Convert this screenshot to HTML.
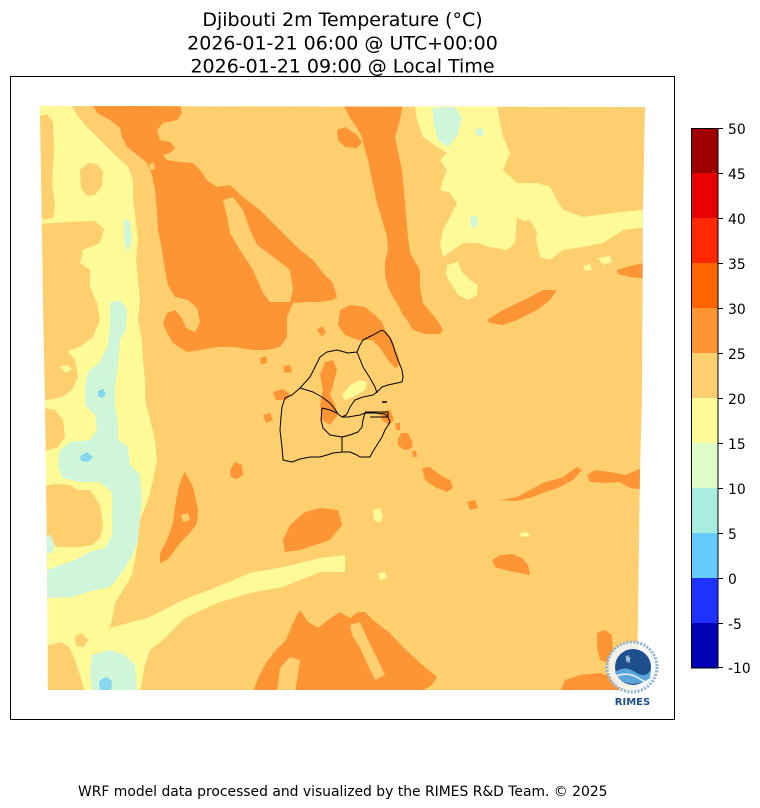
<!DOCTYPE html>
<html><head><meta charset="utf-8"><style>
html,body{margin:0;padding:0;background:#fff;}
svg{display:block;}
text{font-family:"DejaVu Sans","Liberation Sans",sans-serif;fill:#000;}
</style></head><body>
<svg width="760" height="808" viewBox="0 0 760 808" xmlns="http://www.w3.org/2000/svg">
<rect width="760" height="808" fill="#fff"/>
<text x="342.5" y="26" font-size="19" text-anchor="middle">Djibouti 2m Temperature (°C)</text>
<text x="342.5" y="49.5" font-size="19" text-anchor="middle">2026-01-21 06:00 @ UTC+00:00</text>
<text x="342.5" y="72.5" font-size="19" text-anchor="middle">2026-01-21 09:00 @ Local Time</text>
<defs>
<clipPath id="mc"><polygon points="40,106 645,107 643,210 642,400 640,470 637,690 48,690 47,550 45,400 43,300"/></clipPath>
</defs>
<g clip-path="url(#mc)" stroke-linejoin="round">
<rect x="30" y="100" width="620" height="600" fill="#fdcf6f"/>
<!-- left yellow band -->
<polygon fill="#fefa98" points="38,106 72,106 77,115 87,127 100,140 115,155 128,167 133,180 133,200 135,215 138,240 136,260 138,280 140,300 138,320 142,340 143,360 145,380 145,400 150,420 155,440 157,460 153,480 148,500 140,520 138,540 135,560 132,575 125,587 115,603 112,620 108,633 110,628 150,617 183,600 217,587 250,573 283,567 320,558 345,555 345,572 320,572 283,587 250,593 217,603 185,618 165,638 150,650 145,665 140,692 38,692"/>
<!-- LO patches in yellow -->
<polygon fill="#fdcf6f" points="38,117 47,114 53,122 54,150 52,185 55,205 53,218 38,220"/>
<polygon fill="#fdcf6f" points="80,170 88,163 97,164 103,172 102,186 95,195 87,196 81,188"/>
<polygon fill="#fdcf6f" points="38,224 70,222 95,221 104,229 100,243 83,250 80,263 90,270 90,287 97,303 100,320 93,337 80,347 70,350 68,352 75,360 78,377 72,390 62,397 48,400 38,402"/>
<polygon fill="#fefa98" points="60,367 67,365 72,369 66,373"/>
<polygon fill="#fdcf6f" points="38,407 55,410 63,420 65,437 58,447 48,450 38,450"/>
<polygon fill="#fdcf6f" points="38,487 55,484 70,485 78,490 90,490 100,505 103,525 100,538 92,545 80,547 60,547 47,545 38,545"/>
<polygon fill="#fdcf6f" points="75,636 82,633 88,640 84,647 76,646"/>
<polygon fill="#fdcf6f" points="38,648 50,645 62,642 70,648 75,660 80,675 85,692 38,692"/>
<!-- pale green (mint) -->
<polygon fill="#cff6d8" points="110,303 120,300 127,310 126,330 120,340 118,367 115,385 115,407 118,420 118,440 128,447 130,465 140,475 142,500 140,520 138,540 133,555 120,575 110,587 95,590 72,597 47,598 47,570 60,565 75,560 90,552 105,548 112,535 112,520 112,492 100,482 80,482 62,478 58,465 60,450 70,442 90,440 97,430 95,415 85,405 85,385 88,372 100,362 108,345 110,325"/>
<polygon fill="#cff6d8" points="40,537 50,535 55,545 52,553 40,553"/>
<polygon fill="#cff6d8" points="92,655 110,650 125,655 135,665 137,692 92,692 90,672"/>
<polygon fill="#cff6d8" points="124,218 130,222 132,240 128,253 124,240"/>
<polygon fill="#cff6d8" points="428,108 455,107 462,118 458,135 448,147 438,140 432,125"/>
<!-- blue spots -->
<polygon fill="#86d6ee" points="98,391 103,389 106,394 102,398 98,396"/>
<polygon fill="#86d6ee" points="80,456 87,452 93,457 88,462 81,461"/>
<polygon fill="#86d6ee" points="99,681 106,677 112,681 111,692 100,692"/>
<!-- upper right yellow -->
<polygon fill="#fefa98" points="415,106 497,106 503,137 510,153 503,170 517,183 537,183 550,187 557,200 563,210 583,217 613,213 650,209 650,227 623,230 603,243 583,247 563,250 550,260 540,257 537,243 530,230 523,220 517,218 515,243 507,250 490,247 477,243 463,243 453,250 443,257 440,243 443,230 450,217 457,203 450,193 440,190 443,180 447,170 440,160 447,153 437,147 423,137 417,120"/>
<polygon fill="#fdcf6f" points="418,153 428,150 434,158 430,165 420,163"/>
<polygon fill="#fdcf6f" points="415,182 425,178 432,185 428,195 417,193"/>
<polygon fill="#fdcf6f" points="520,222 530,220 537,232 535,245 525,243"/>
<polygon fill="#cff6d8" points="432,108 455,107 462,118 458,135 448,147 438,140 434,125"/>
<polygon fill="#cff6d8" points="470,217 476,215 478,225 472,228"/>
<polygon fill="#cff6d8" points="475,130 482,128 484,135 478,137"/>
<polygon fill="#fefa98" points="447,265 458,262 462,272 470,280 478,285 477,295 468,300 458,295 452,285 446,275"/>
<polygon fill="#fefa98" points="598,258 610,256 612,262 603,265"/>
<polygon fill="#fefa98" points="583,266 590,264 592,270 585,271"/>
<!-- big orange left -->
<polygon fill="#fd9535" points="92,104 180,104 182,113 177,120 163,123 157,130 160,140 170,142 175,148 170,153 163,155 167,160 180,162 193,163 200,170 207,180 217,187 230,185 243,197 260,210 273,223 287,237 300,250 313,260 323,273 333,283 337,297 333,300 320,302 307,302 293,303 287,317 287,337 280,347 267,350 253,350 233,347 217,347 200,350 187,352 173,343 167,333 163,323 167,313 175,310 182,318 186,328 195,332 200,322 197,308 188,300 175,297 168,285 165,270 162,250 158,230 157,210 155,190 152,175 147,163 140,157 127,147 122,137 120,128 110,120 97,113"/>
<polygon fill="#fdcf6f" points="223,200 233,197 243,210 250,230 257,245 280,262 290,270 293,290 290,302 270,302 263,293 253,270 240,250 230,233 227,217"/>
<polygon fill="#fdcf6f" points="149,164 154,163 155,169 150,170"/>
<!-- orange ridge -->
<polygon fill="#fd9535" points="343,104 403,104 400,120 395,137 402,170 405,203 408,237 410,253 420,270 420,287 423,303 437,320 443,330 440,334 425,334 413,330 407,320 403,315 397,303 393,297 388,287 385,275 385,262 388,250 387,237 382,220 377,203 373,185 370,170 368,160 365,150 362,137 357,128 350,118"/>
<polygon fill="#fd9535" points="337,130 345,127 357,135 362,142 357,148 345,147 338,140"/>
<polygon fill="#fd9535" points="487,320 503,310 530,297 543,290 557,290 550,300 537,310 517,320 503,325 490,323"/>
<polygon fill="#fd9535" points="617,270 630,266 650,262 650,279 630,277 618,274"/>
<polygon fill="#fd9535" points="340,310 350,305 365,307 375,315 382,322 385,330 392,340 398,355 400,365 395,368 388,360 380,348 372,340 358,340 345,335 338,325"/>
<!-- Djibouti interior -->
<polygon fill="#fd9535" points="325,362 333,360 337,370 333,385 330,395 335,405 338,415 330,425 322,420 320,405 323,390 320,375"/>
<polygon fill="#fefa98" points="342,395 350,385 360,380 367,382 365,390 355,396 345,400"/>
<polygon fill="#fd9535" points="273,392 283,389 290,394 287,400 276,400"/>
<polygon fill="#fd9535" points="263,415 270,413 273,420 266,423"/>
<polygon fill="#fd9535" points="283,366 290,365 292,372 285,373"/>
<polygon fill="#fd9535" points="317,330 322,326 326,332 322,337"/>
<polygon fill="#fd9535" points="260,358 266,356 267,363 261,364"/>
<polygon fill="#fd9535" points="380,412 390,410 394,420 389,425 382,420"/>
<polygon fill="#fd9535" points="395,423 400,423 400,430 396,430"/>
<polygon fill="#fd9535" points="400,433 408,433 413,445 408,450 402,445"/>
<polygon fill="#fd9535" points="412,451 416,451 417,457 413,457"/>
<!-- lower orange -->
<polygon fill="#fd9535" points="185,472 193,487 198,510 197,523 190,533 180,543 173,553 167,560 160,563 160,553 167,540 173,523 175,507 178,490 182,477"/>
<polygon fill="#fdcf6f" points="181,515 188,513 190,520 183,522"/>
<polygon fill="#fd9535" points="230,470 235,462 242,465 243,475 237,479 231,477"/>
<polygon fill="#fd9535" points="283,540 290,525 305,512 320,508 338,510 342,525 330,540 315,545 300,550 285,552"/>
<polygon fill="#fd9535" points="253,692 258,678 266,663 276,650 286,640 292,625 300,610 308,622 318,628 328,620 340,612 350,618 358,612 365,612 373,620 390,633 403,647 420,663 437,677 432,685 420,692"/>
<polygon fill="#fdcf6f" points="350,625 360,622 368,640 378,660 385,675 375,680 368,665 360,648 352,635"/>
<polygon fill="#fdcf6f" points="277,692 280,668 290,657 300,660 298,675 295,692"/>
<polygon fill="#fd9535" points="500,500 517,497 530,490 543,483 563,477 577,467 582,470 573,480 560,487 543,493 530,498 517,501"/>
<polygon fill="#fd9535" points="587,475 595,470 610,472 625,475 637,470 650,466 650,490 630,488 620,482 605,483 590,482"/>
<polygon fill="#fd9535" points="398,438 405,433 412,440 412,448 404,450 398,445"/>
<polygon fill="#fd9535" points="422,468 430,467 440,475 450,480 453,488 447,492 435,487 425,480"/>
<polygon fill="#fd9535" points="467,502 475,500 478,508 470,510"/>
<polygon fill="#fd9535" points="492,560 500,555 512,554 522,558 528,565 530,575 520,573 505,570 495,567"/>
<polygon fill="#fd9535" points="597,633 605,630 612,635 613,650 608,663 600,660 597,648"/>
<polygon fill="#fd9535" points="560,692 565,680 580,675 600,673 615,678 620,692"/>
<!-- small yellow spots -->
<polygon fill="#fefa98" points="373,510 380,508 383,515 380,523 374,520"/>
<polygon fill="#fefa98" points="378,573 385,572 387,578 380,580"/>
<polygon fill="#fefa98" points="520,533 528,532 530,536 521,537"/>
</g>
<!-- Djibouti borders -->
<g fill="none" stroke="#000" stroke-width="1" stroke-linejoin="round">
<polyline points="382,330 385,332 390,338 393,345 395,352 398,360 400,365 402,370 403,377 402,382 397,383 388,385 382,387 377,392 373,395 363,397 355,400 350,407 348,412 346,415 342,417 338,414 337,412"/>
<polyline points="342,417 348,417 360,415 365,413 375,413 385,414 388,417 390,422 385,430 382,437 377,445 372,453 370,457 360,457 357,455 350,452 342,452 333,453 327,455 320,457 310,457 300,459 292,462 283,460 282,447 280,430 281,417 282,407 285,398 292,395 300,388 310,377 320,357 327,352 337,350 348,353 357,352 360,345 363,340 373,335 382,330"/>
<polyline points="357,352 363,367 370,378 375,387 377,393"/>
<polyline points="300,388 313,392 322,397 330,403 337,412"/>
<polyline points="322,408 321,420 323,428 330,435 342,437 350,435 358,432 362,427 363,420 365,413"/>
<polyline points="322,408 330,410 337,413"/>
<polyline points="342,437 342,452"/>
<polyline points="365,412 388,412 388,417 370,417"/>
</g>
<line x1="382" y1="402" x2="387" y2="402" stroke="#000" stroke-width="1.5"/>
<!-- RIMES logo -->
<g>
<circle cx="632" cy="667" r="25" fill="#f4f7fb" fill-opacity="0.85"/>
<circle cx="632" cy="667" r="25" fill="none" stroke="#8fb2d6" stroke-width="3" stroke-dasharray="2,1.5"/>
<circle cx="633" cy="667" r="18" fill="#1d4f8c"/>
<path d="M615,672 Q625,665 635,672 T651,670 L650,678 Q640,686 626,683 Q618,680 615,672 Z" fill="#5aa6d8"/>
<path d="M616,676 Q628,671 640,679 T651,675" fill="none" stroke="#e8f2fa" stroke-width="1.5"/>
<path d="M626,656 l1,6 l1,-7 l1,8 l1,-6" fill="none" stroke="#cfe3f4" stroke-width="0.8"/>
<text x="632.5" y="705" font-size="10" font-weight="bold" text-anchor="middle" style="fill:#1d4f8c">RIMES</text>
</g>
<!-- axes frame -->
<rect x="10.5" y="76.5" width="664" height="643" fill="none" stroke="#000" stroke-width="1"/>
<!-- colorbar -->
<rect x="691" y="128" width="27" height="45" fill="#a00000"/>
<rect x="691" y="173" width="27" height="45" fill="#e60000"/>
<rect x="691" y="218" width="27" height="45" fill="#ff2800"/>
<rect x="691" y="263" width="27" height="45" fill="#ff6400"/>
<rect x="691" y="308" width="27" height="45" fill="#fd9535"/>
<rect x="691" y="353" width="27" height="45" fill="#fdcf6f"/>
<rect x="691" y="398" width="27" height="45" fill="#fefa98"/>
<rect x="691" y="443" width="27" height="45" fill="#dcfdc8"/>
<rect x="691" y="488" width="27" height="45" fill="#a9ece0"/>
<rect x="691" y="533" width="27" height="45" fill="#66ccff"/>
<rect x="691" y="578" width="27" height="45" fill="#1e32ff"/>
<rect x="691" y="623" width="27" height="45" fill="#0000b4"/>
<rect x="691.5" y="128.5" width="26.5" height="539.5" fill="none" stroke="#000" stroke-width="1"/>
<g stroke="#000" stroke-width="1">
<line x1="718" y1="128.5" x2="723" y2="128.5"/><line x1="718" y1="173.5" x2="723" y2="173.5"/>
<line x1="718" y1="218.5" x2="723" y2="218.5"/><line x1="718" y1="263.5" x2="723" y2="263.5"/>
<line x1="718" y1="308.5" x2="723" y2="308.5"/><line x1="718" y1="353.5" x2="723" y2="353.5"/>
<line x1="718" y1="398.5" x2="723" y2="398.5"/><line x1="718" y1="443.5" x2="723" y2="443.5"/>
<line x1="718" y1="488.5" x2="723" y2="488.5"/><line x1="718" y1="533.5" x2="723" y2="533.5"/>
<line x1="718" y1="578.5" x2="723" y2="578.5"/><line x1="718" y1="623.5" x2="723" y2="623.5"/>
<line x1="718" y1="667.5" x2="723" y2="667.5"/>
</g>
<g font-size="13.9">
<text x="728" y="134">50</text><text x="728" y="179">45</text><text x="728" y="224">40</text>
<text x="728" y="269">35</text><text x="728" y="314">30</text><text x="728" y="359">25</text>
<text x="728" y="404">20</text><text x="728" y="449">15</text><text x="728" y="494">10</text>
<text x="728" y="539">5</text><text x="728" y="584">0</text><text x="728" y="629">-5</text>
<text x="728" y="673">-10</text>
</g>
<text x="78" y="796" font-size="13.9">WRF model data processed and visualized by the RIMES R&amp;D Team. © 2025</text>
</svg>
</body></html>
